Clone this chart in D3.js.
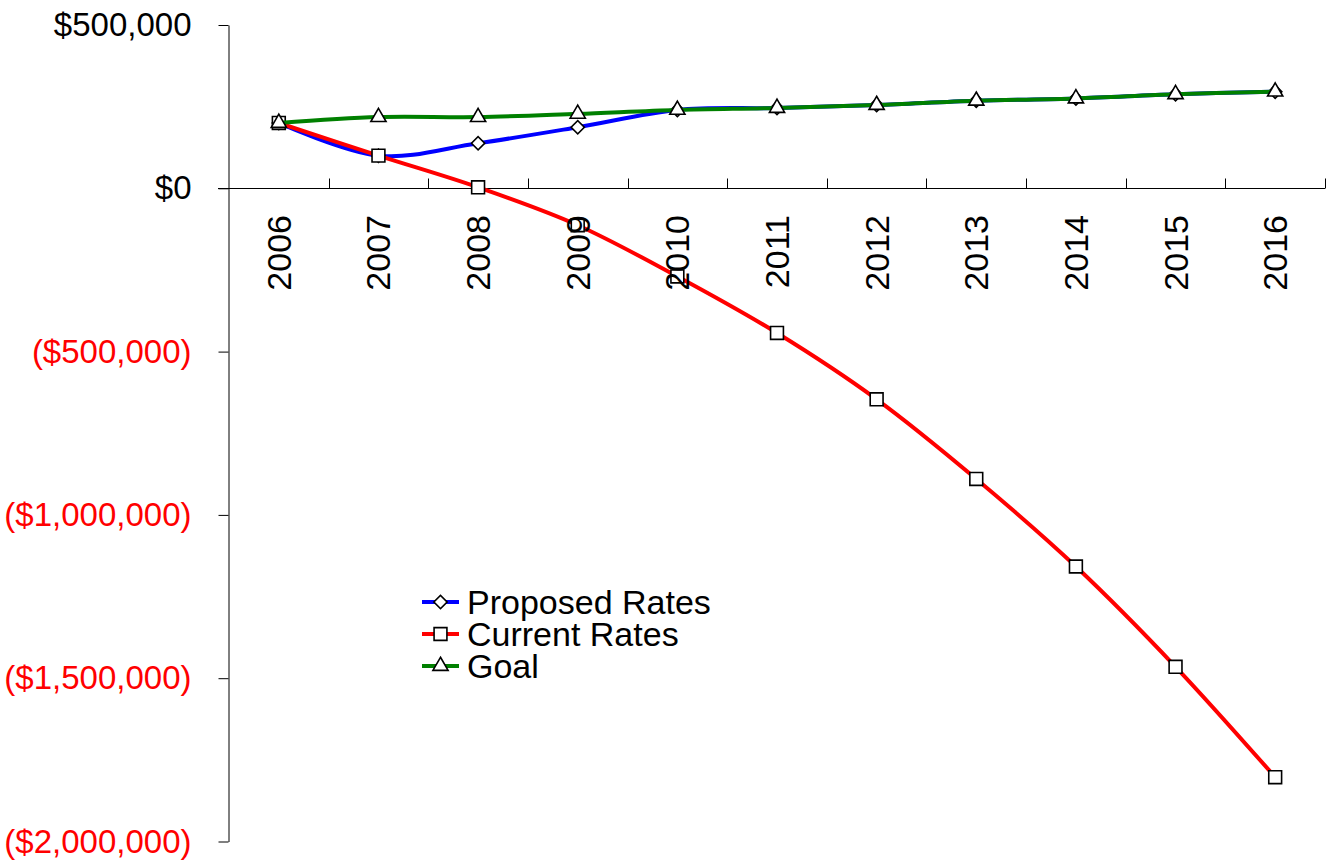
<!DOCTYPE html>
<html>
<head>
<meta charset="utf-8">
<script src="https://cdn.jsdelivr.net/npm/d3@7"></script>
<style>
  body { margin: 0; background: #fff; }
  text { font-family: "Liberation Sans", Arial, sans-serif; }
</style>
</head>
<body>
<svg id="chart"></svg>
<script>
var years = ['2006','2007','2008','2009','2010','2011','2012','2013','2014','2015','2016'];
var proposed = [200000, 100000, 138000, 187000, 240000, 246000, 255000, 268000, 275000, 288000, 296000];
var current = [200000, 100000, 3000, -113000, -270000, -443000, -646000, -890000, -1158000, -1465000, -1803000];
var goal = [200000, 218000, 218000, 228000, 240000, 246000, 255000, 268000, 275000, 288000, 296000];
var yTicks = [500000, 0, -500000, -1000000, -1500000, -2000000];

var width = 1333;
var height = 865;
var fontSize = 34;

var svg = d3.select('#chart')
    .attr('width', width)
    .attr('height', height);

var x = d3.scaleBand()
    .domain(years)
    .range([229, 1325])
    .padding(0);

var y = d3.scaleLinear()
    .domain([-2000000, 500000])
    .range([841.5, 25]);

var money = function(v) {
    var s = '$' + d3.format(',')(Math.abs(v));
    return v < 0 ? '(' + s + ')' : s;
};

// y axis
var yAxis = svg.append('g')
    .attr('transform', 'translate(228.5,0)')
    .call(d3.axisLeft(y).tickValues(yTicks).tickFormat(money).tickSize(10).tickSizeOuter(0).tickPadding(27));
yAxis.select('.domain').attr('stroke', '#000');
yAxis.selectAll('.tick line').attr('stroke', '#000');
yAxis.selectAll('.tick text')
    .attr('font-size', 33)
    .attr('font-family', '"Liberation Sans", Arial, sans-serif')
    .attr('fill', d => d < 0 ? '#ff0000' : '#000');

// x axis line and boundary ticks
var y0 = Math.round(y(0)) + 0.5;
svg.append('line')
    .attr('x1', 218).attr('x2', x.range()[1])
    .attr('y1', y0).attr('y2', y0)
    .attr('stroke', '#000');

var bounds = years.slice(1).map(d => x(d)).concat([x.range()[1]]);
svg.selectAll('.xtick')
    .data(bounds)
    .enter()
    .append('line')
    .attr('x1', d => Math.round(d) + 0.5)
    .attr('x2', d => Math.round(d) + 0.5)
    .attr('y1', y0)
    .attr('y2', y0 - 10)
    .attr('stroke', '#000');

// diamond = square turned 45 degrees
var series = [
    {name: 'Proposed Rates', values: proposed, color: '#0000ff', marker: d3.symbolSquare, size: 88, rot: 45},
    {name: 'Current Rates', values: current, color: '#ff0000', marker: d3.symbolSquare, size: 165, rot: 0},
    {name: 'Goal', values: goal, color: '#008000', marker: d3.symbolTriangle, size: 100, rot: 0}
];

var line = d3.line()
    .x((d, i) => x(years[i]) + x.bandwidth() / 2)
    .y(d => y(d))
    .curve(d3.curveCatmullRom.alpha(0));

series.forEach(function(s) {
    svg.append('path')
        .datum(s.values)
        .attr('d', line)
        .attr('fill', 'none')
        .attr('stroke', s.color)
        .attr('stroke-width', 4);

    svg.append('g')
        .selectAll('path')
        .data(s.values)
        .enter()
        .append('path')
        .attr('d', d3.symbol().type(s.marker).size(s.size))
        .attr('transform', (d, i) => `translate(${x(years[i]) + x.bandwidth() / 2}, ${y(d)}) rotate(${s.rot})`)
        .attr('fill', '#fff')
        .attr('stroke', '#000')
        .attr('stroke-width', 1.6);
});

// x labels, rotated, drawn on top
svg.selectAll('.xlabel')
    .data(years)
    .enter()
    .append('text')
    .attr('transform', d => `translate(${x(d) + x.bandwidth() / 2}, 215) rotate(-90)`)
    .attr('text-anchor', 'end')
    .attr('dominant-baseline', 'central')
    .attr('font-size', fontSize)
    .attr('fill', '#000')
    .text(d => d);

// legend
var legend = svg.append('g')
    .attr('transform', 'translate(422, 602)');

series.forEach(function(s, i) {
    var g = legend.append('g').attr('transform', `translate(0, ${i * 32})`);
    g.append('line')
        .attr('x1', 0).attr('x2', 37)
        .attr('y1', 0).attr('y2', 0)
        .attr('stroke', s.color)
        .attr('stroke-width', 4);
    g.append('path')
        .attr('d', d3.symbol().type(s.marker).size(s.size))
        .attr('transform', `translate(18.5, 0) rotate(${s.rot})`)
        .attr('fill', '#fff')
        .attr('stroke', '#000')
        .attr('stroke-width', 1.6);
    g.append('text')
        .attr('x', 45)
        .attr('y', 0)
        .attr('dominant-baseline', 'central')
        .attr('font-size', fontSize)
        .attr('fill', '#000')
        .text(s.name);
});
</script>
</body>
</html>
